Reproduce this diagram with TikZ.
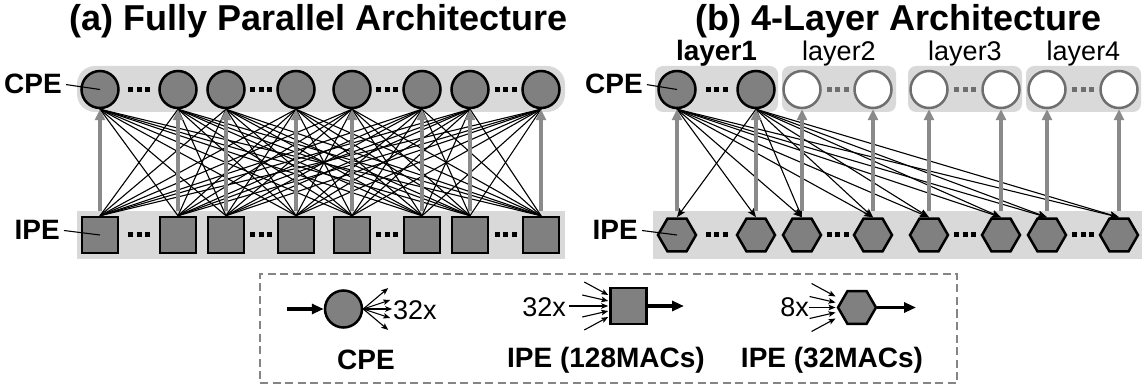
\documentclass[tikz,border=0pt]{standalone}
\usepackage{fontspec}
\setmainfont{Liberation Sans}
\usetikzlibrary{arrows.meta,shapes.geometric,calc}

\definecolor{pefill}{HTML}{808080}
\definecolor{rowbg}{HTML}{D9D9D9}
\definecolor{feedgray}{HTML}{8A8A8A}
\definecolor{idlegray}{HTML}{6E6E6E}
\definecolor{boxgray}{HTML}{858585}

% three square dots half-way between two nodes
\newcommand\pedots[3][black]{%
  \foreach \dx in {-8.5,0,8.5}
    {\fill[#1] ($(#2)!0.5!(#3)+(\dx-2.5,-2.5)$) rectangle ++(5,5);}%
}

\begin{document}
\begin{tikzpicture}[x=1pt,y=-1pt,
  cpe/.style={circle, draw=black, line width=2.5pt, fill=pefill, minimum size=37pt, inner sep=0pt},
  idle/.style={circle, draw=idlegray, line width=2.5pt, fill=white, minimum size=37pt, inner sep=0pt},
  ipesq/.style={rectangle, draw=black, line width=2.5pt, fill=pefill, minimum size=36pt, inner sep=0pt},
  ipehex/.style={regular polygon, regular polygon sides=6, draw=black, line width=2.5pt, fill=pefill, minimum size=38pt, inner sep=0pt},
  rowbox/.style={fill=rowbg, draw=none, inner sep=0pt, outer sep=0pt},
  link/.style={line width=1.1pt, black},
  linkarrow/.style={link, -{Stealth[length=9pt,width=7pt,inset=2pt]}},
  feed/.style={line width=3.6pt, feedgray, -{Triangle[length=11pt,width=10pt]}},
  lead/.style={line width=1.1pt, shorten <=4pt},
  heading/.style={font=\bfseries\fontsize{36}{36}\selectfont, inner sep=0pt},
  lbl/.style={font=\bfseries\fontsize{28}{28}\selectfont, inner sep=0pt},
  txt/.style={font=\fontsize{27}{27}\selectfont, inner sep=0pt},
  bigarrow/.style={line width=3.4pt, -{Triangle[length=12pt,width=10pt]}},
  fanarrow/.style={line width=1.1pt, -{Stealth[length=7pt,width=5.5pt,inset=1.5pt]}},
]
\useasboundingbox (0,0) rectangle (1144,390);

% ---------- titles ----------
\node[heading, anchor=base east] (ta) at (568,31) {(a) Fully Parallel Architecture};
\node[heading, anchor=base west] (tb) at (695,31) {(b) 4-Layer Architecture};

% ---------- (a) fully parallel ----------
\node[rowbox, rounded corners=18pt, minimum width=488pt, minimum height=46pt] (cpeA) at (321,89) {};
\node[rowbox, minimum width=488pt, minimum height=48pt] (ipeA) at (321,235) {};

\foreach \x [count=\i] in {100,178,226,296,352,422,470,541} {
  \node[cpe] (a\i) at (\x,89.5) {};
  \node[ipesq] (s\i) at (\x,235) {};
}
\foreach \p/\q in {1/2,3/4,5/6,7/8} {
  \pedots{a\p}{a\q}
  \pedots{s\p}{s\q}
}

\foreach \i in {1,...,8} {
  \foreach \j in {1,...,8} {
    \ifnum\i=\j\else \draw[link] (a\i.south) -- (s\j.north); \fi
  }
}
\foreach \i in {1,...,8} {
  \draw[feed] (s\i |- ipeA.north) -- (a\i.south);
}

\node[lbl, anchor=east] (cpeLa) at (62,84) {CPE};
\node[lbl, anchor=east] (ipeLa) at (60,230) {IPE};
\draw[lead] (cpeLa.east) -- (a1.center);
\draw[lead] (ipeLa.east) -- (s1.center);

% ---------- (b) 4-layer ----------
\node[rowbox, rounded corners=8pt, minimum width=123pt, minimum height=46pt] (lay1) at (716.5,89) {};
\node[rowbox, rounded corners=8pt, minimum width=114pt, minimum height=46pt] (lay2) at (839,89) {};
\node[rowbox, rounded corners=8pt, minimum width=114pt, minimum height=46pt] (lay3) at (965,89) {};
\node[rowbox, rounded corners=8pt, minimum width=115pt, minimum height=46pt] (lay4) at (1083.5,89) {};
\node[rowbox, minimum width=489pt, minimum height=48pt] (ipeB) at (897.5,235) {};

\node[lbl, anchor=base] (n1) at (lay1 |- 0,61) {layer1};
\node[txt, anchor=base] (n2) at (lay2 |- 0,61) {layer2};
\node[txt, anchor=base] (n3) at (lay3 |- 0,61) {layer3};
\node[txt, anchor=base] (n4) at (lay4 |- 0,61) {layer4};

\foreach \x [count=\i] in {677,756,802,873,929,1001,1047,1119} {
  \ifnum\i<3 \node[cpe] (b\i) at (\x,89.5) {};
  \else \node[idle] (b\i) at (\x,89.5) {}; \fi
  \node[ipehex] (h\i) at (\x,235) {};
}
\pedots{b1}{b2}
\pedots[idlegray]{b3}{b4}
\pedots[idlegray]{b5}{b6}
\pedots[idlegray]{b7}{b8}
\foreach \p/\q in {1/2,3/4,5/6,7/8} {
  \pedots{h\p}{h\q}
}

\foreach \i in {1,2} {
  \foreach \j in {1,...,8} {
    \ifnum\i=\j\else \draw[linkarrow] (b\i.south) -- (h\j.north); \fi
  }
}
\foreach \i in {1,...,8} {
  \draw[feed] (h\i |- ipeB.north) -- (b\i.south);
}

\node[lbl, anchor=east] (cpeLb) at (643,84) {CPE};
\node[lbl, anchor=east] (ipeLb) at (638,230) {IPE};
\draw[lead] (cpeLb.east) -- (b1.center);
\draw[lead] (ipeLb.east) -- (h1.center);

% ---------- legend ----------
\node[draw=boxgray, line width=2.5pt, dash pattern=on 8pt off 4.5pt,
      minimum width=697pt, minimum height=109pt, inner sep=0pt] (legend) at (608.5,328.5) {};

% CPE: one input, 32 outputs
\node[cpe] (lgC) at (343.5,309) {};
\coordinate (lgCin) at (287,309);
\draw[bigarrow] (lgCin) -- (lgC.west);
\foreach \dx/\dy [count=\k] in {25/-21,27/-9,29/0,27/9,25/21} {
  \coordinate (lgCo\k) at ($(lgC.east)+(\dx,\dy)$);
  \draw[fanarrow] (lgC.east) -- (lgCo\k);
}
\node[txt, anchor=west] (lgCx) at (393,310) {32x};
\node[lbl] (lgCl) at (366,360) {CPE};

% IPE with 128 MACs: 32 inputs, one output
\node[ipesq] (lgS) at (628.5,306) {};
\foreach \o/\tx/\ty [count=\k] in {-11/-24/-13,-5/-26/-6,0/-39/0,5/-26/6,11/-24/13} {
  \coordinate (lgSt\k) at ($(lgS.west)+(-1,\o)$);
  \coordinate (lgSf\k) at ($(lgSt\k)+(\tx,\ty)$);
  \draw[fanarrow] (lgSf\k) -- (lgSt\k);
}
\node[txt, anchor=east] (lgSx) at (566,307) {32x};
\coordinate (lgSout) at (684,306);
\draw[bigarrow] (lgS.east) -- (lgSout);
\node[lbl] (lgSl) at (606,360) {IPE (128MACs)};

% IPE with 32 MACs: 8 inputs, one output
\node[ipehex] (lgH) at (857,307.5) {};
\foreach \o/\tx/\ty [count=\k] in {-11/-24/-13,-5/-26/-6,0/-27/0,5/-26/6,11/-24/13} {
  \coordinate (lgHt\k) at ($(lgH.west)+(-1,\o)$);
  \coordinate (lgHf\k) at ($(lgHt\k)+(\tx,\ty)$);
  \draw[fanarrow] (lgHf\k) -- (lgHt\k);
}
\node[txt, anchor=east] (lgHx) at (809,307) {8x};
\coordinate (lgHout) at (916,307.5);
\draw[bigarrow] (lgH.east) -- (lgHout);
\node[lbl] (lgHl) at (832,360) {IPE (32MACs)};
\end{tikzpicture}
\end{document}
